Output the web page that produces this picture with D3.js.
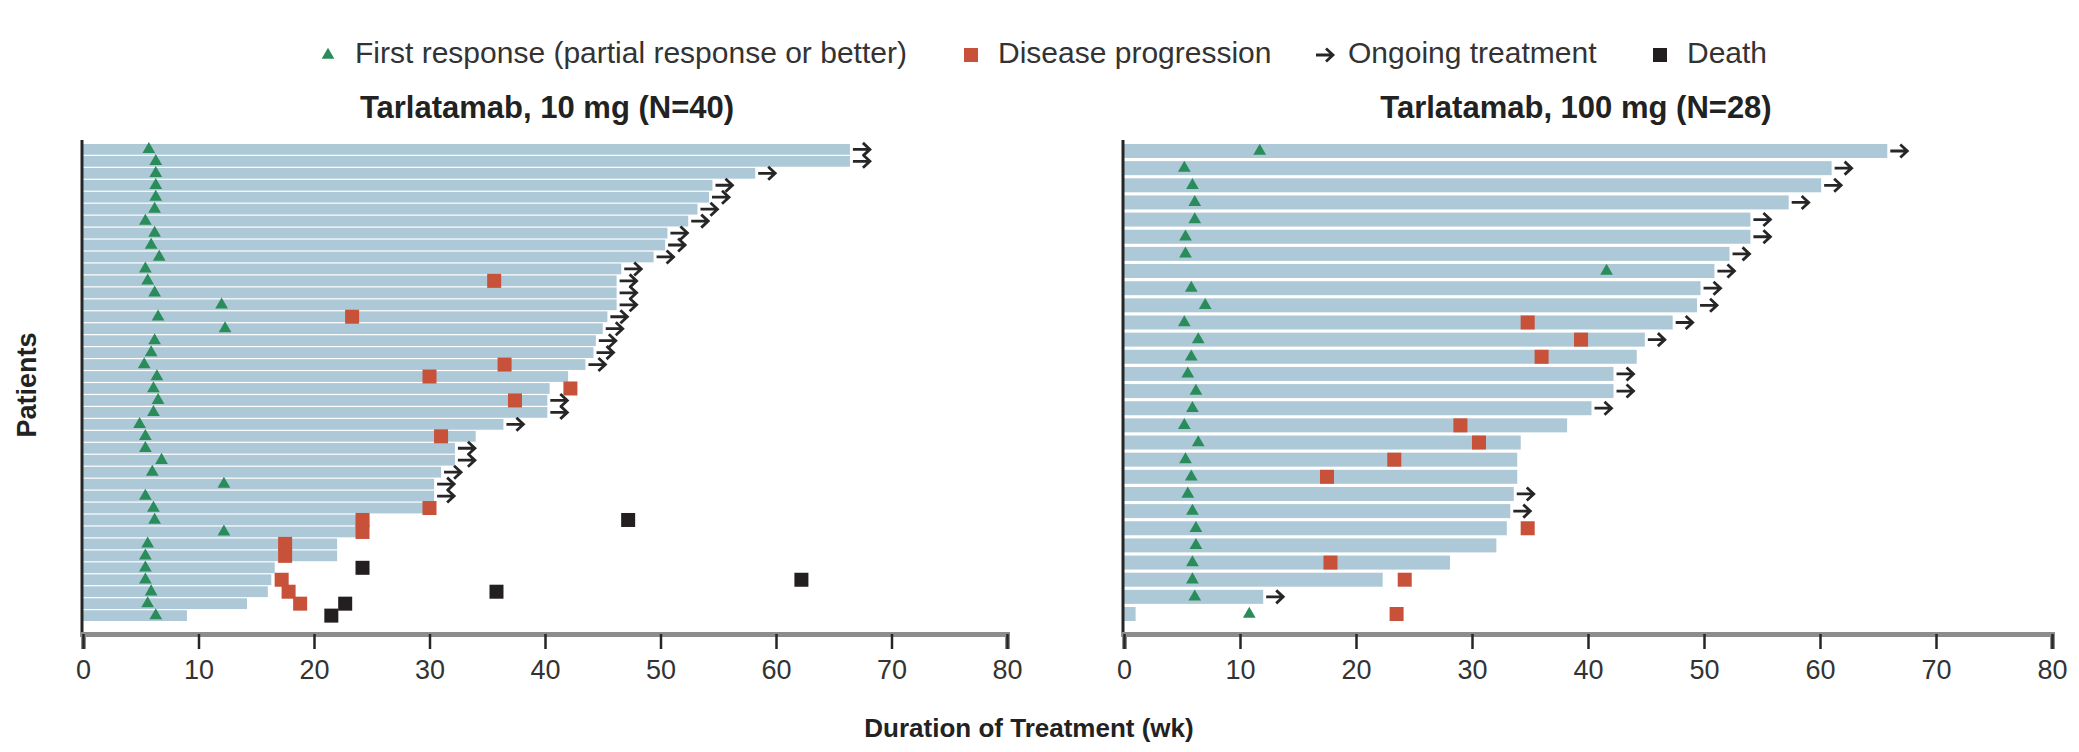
<!DOCTYPE html>
<html>
<head>
<meta charset="utf-8">
<script src="https://cdn.jsdelivr.net/npm/d3@7"></script>
<style>
  body { margin: 0; background: #fff; }
  svg { display: block; font-family: "Liberation Sans", Arial, sans-serif; }
</style>
</head>
<body>
<svg id="chart" width="2079" height="752"></svg>
<script>
// ---- data, one entry per patient, top row first (weeks) ----
// Tarlatamab 10 mg
const dur10 = [66.4, 66.4, 58.2, 54.5, 54.2, 53.2, 52.4, 50.6, 50.4, 49.4,
               46.6, 46.2, 46.2, 46.2, 45.4, 45.0, 44.4, 44.2, 43.5, 42.0,
               40.4, 40.2, 40.2, 36.4, 34.0, 32.2, 32.2, 31.0, 30.4, 30.4,
               29.8, 24.8, 24.2, 22.0, 22.0, 16.6, 16.3, 16.0, 14.2, 9.0];
const resp10 = [5.7, 6.3, 6.3, 6.3, 6.3, 6.2, 5.4, 6.2, 5.9, 6.6,
                5.4, 5.6, 6.2, 12.0, 6.5, 12.3, 6.2, 5.9, 5.3, 6.4,
                6.1, 6.5, 6.1, 4.9, 5.4, 5.4, 6.8, 6.0, 12.2, 5.4,
                6.1, 6.2, 12.2, 5.6, 5.4, 5.4, 5.4, 5.9, 5.6, 6.3];
const prog10 = [null, null, null, null, null, null, null, null, null, null,
                null, 35.6, null, null, 23.3, null, null, null, 36.5, 30.0,
                42.2, 37.4, null, null, 31.0, null, null, null, null, null,
                30.0, 24.2, 24.2, 17.5, 17.5, null, 17.2, 17.8, 18.8, null];
const death10 = [null, null, null, null, null, null, null, null, null, null,
                 null, null, null, null, null, null, null, null, null, null,
                 null, null, null, null, null, null, null, null, null, null,
                 null, 47.2, null, null, null, 24.2, 62.2, 35.8, 22.7, 21.5];
const ongoing10 = [1, 1, 1, 1, 1, 1, 1, 1, 1, 1,
                   1, 1, 1, 1, 1, 1, 1, 1, 1, 0,
                   0, 1, 1, 1, 0, 1, 1, 1, 1, 1,
                   0, 0, 0, 0, 0, 0, 0, 0, 0, 0];

// Tarlatamab 100 mg
const dur100 = [65.8, 61.0, 60.1, 57.3, 54.0, 54.0, 52.2, 50.9, 49.7, 49.4,
                47.3, 44.9, 44.2, 42.2, 42.2, 40.3, 38.2, 34.2, 33.9, 33.9,
                33.6, 33.3, 33.0, 32.1, 28.1, 22.3, 12.0, 1.0];
const resp100 = [11.7, 5.2, 5.9, 6.1, 6.1, 5.3, 5.3, 41.6, 5.8, 7.0,
                 5.2, 6.4, 5.8, 5.5, 6.2, 5.9, 5.2, 6.4, 5.3, 5.8,
                 5.5, 5.9, 6.2, 6.2, 5.9, 5.9, 6.1, 10.8];
const prog100 = [null, null, null, null, null, null, null, null, null, null,
                 34.8, 39.4, 36.0, null, null, null, 29.0, 30.6, 23.3, 17.5,
                 null, null, 34.8, null, 17.8, 24.2, null, 23.5];
const death100 = dur100.map(() => null);
const ongoing100 = [1, 1, 1, 1, 1, 1, 1, 1, 1, 1,
                    1, 1, 0, 1, 1, 1, 0, 0, 0, 0,
                    1, 1, 0, 0, 0, 0, 1, 0];

const xTicks = [0, 10, 20, 30, 40, 50, 60, 70, 80];
const legendLabels = ["First response (partial response or better)", "Disease progression",
                      "Ongoing treatment", "Death"];
const panelTitles = ["Tarlatamab, 10 mg (N=40)", "Tarlatamab, 100 mg (N=28)"];

// ---- styles ----
const BAR = '#adc8d6', RED = '#c8513a', GREEN = '#2a8c5a', BLACK = '#231f20', INK = '#262626';
const ARROW = 'M-9,0H8M1,-6.5L8,0L1,6.5';

const svg = d3.select('#chart');
const tri = d3.symbol(d3.symbolTriangle, 70);

const panels = [
  { title: panelTitles[0], dur: dur10, resp: resp10, prog: prog10, death: death10, ongoing: ongoing10,
    x0: 83, x1: 1007, pad: 0.1, titleX: 547 },
  { title: panelTitles[1], dur: dur100, resp: resp100, prog: prog100, death: death100, ongoing: ongoing100,
    x0: 1124, x1: 2052, pad: 0.184, titleX: 1576 }
];

panels.forEach(drawPanel);
drawLegend();

svg.append('text')
  .attr('x', 1029).attr('y', 737).attr('text-anchor', 'middle')
  .attr('font-size', 26).attr('font-weight', 'bold').attr('fill', '#222')
  .text('Duration of Treatment (wk)');

svg.append('text')
  .attr('transform', 'translate(36,385) rotate(-90)').attr('text-anchor', 'middle')
  .attr('font-size', 27).attr('font-weight', 'bold').attr('fill', '#222')
  .text('Patients');

function drawPanel(p) {
  const x = d3.scaleLinear().domain([0, 80]).range([p.x0, p.x1]);
  const y = d3.scaleBand().domain(d3.range(p.dur.length)).range([144, 621]).paddingInner(p.pad);
  const cy = i => y(i) + y.bandwidth() / 2;
  const g = svg.append('g');

  // treatment bars
  g.append('g').selectAll('rect').data(p.dur).join('rect')
    .attr('x', x(0)).attr('y', (d, i) => y(i))
    .attr('width', d => x(d) - x(0)).attr('height', y.bandwidth())
    .attr('fill', BAR);

  // ongoing arrows just past the bar end
  const rows = p.dur.map((d, i) => ({ d, i }));
  g.append('g').selectAll('path').data(rows.filter(r => p.ongoing[r.i])).join('path')
    .attr('transform', r => `translate(${x(r.d) + 12},${cy(r.i)})`)
    .attr('d', ARROW).attr('fill', 'none')
    .attr('stroke', INK).attr('stroke-width', 2.8);

  // disease progression
  const sq = 14;
  g.append('g').selectAll('rect').data(rows.filter(r => p.prog[r.i] != null)).join('rect')
    .attr('x', r => x(p.prog[r.i]) - sq / 2).attr('y', r => cy(r.i) - sq / 2)
    .attr('width', sq).attr('height', sq).attr('fill', RED);

  // death
  g.append('g').selectAll('rect').data(rows.filter(r => p.death[r.i] != null)).join('rect')
    .attr('x', r => x(p.death[r.i]) - sq / 2).attr('y', r => cy(r.i) - sq / 2)
    .attr('width', sq).attr('height', sq).attr('fill', BLACK);

  // first response
  g.append('g').selectAll('path').data(rows).join('path')
    .attr('transform', r => `translate(${x(p.resp[r.i])},${cy(r.i)})`)
    .attr('d', tri).attr('fill', GREEN);

  // axes
  g.append('line')
    .attr('x1', x(0) - 1).attr('x2', x(0) - 1).attr('y1', 140).attr('y2', 637)
    .attr('stroke', INK).attr('stroke-width', 3);

  const ax = g.append('g').attr('transform', 'translate(0,634)')
    .call(d3.axisBottom(x).tickValues(xTicks).tickSizeOuter(0).tickSize(15).tickPadding(11));
  ax.attr('font-family', null).attr('font-size', 27);
  ax.select('.domain').attr('stroke', '#8d8d8d').attr('stroke-width', 5);
  ax.selectAll('.tick line').attr('stroke', INK).attr('stroke-width', 2.5);
  ax.selectAll('.tick text').attr('fill', '#333');

  g.append('text')
    .attr('x', p.titleX).attr('y', 118).attr('text-anchor', 'middle')
    .attr('font-size', 31).attr('font-weight', 'bold').attr('fill', '#222')
    .text(p.title);
}

function drawLegend() {
  const lx = [328, 971, 1325, 1660];
  const ly = 55;
  const lg = svg.append('g').attr('class', 'legend');

  lg.append('path').attr('transform', `translate(${lx[0]},${ly})`).attr('d', tri).attr('fill', GREEN);
  lg.append('rect').attr('x', lx[1] - 7).attr('y', ly - 7).attr('width', 14).attr('height', 14).attr('fill', RED);
  lg.append('path').attr('transform', `translate(${lx[2]},${ly})`).attr('d', ARROW)
    .attr('fill', 'none').attr('stroke', INK).attr('stroke-width', 2.8);
  lg.append('rect').attr('x', lx[3] - 7).attr('y', ly - 7).attr('width', 14).attr('height', 14).attr('fill', BLACK);

  lg.selectAll('text').data(legendLabels).join('text')
    .attr('x', (d, i) => lx[i] + (i === 2 ? 23 : 27)).attr('y', 63)
    .attr('font-size', 30).attr('fill', '#333')
    .text(d => d);
}
</script>
</body>
</html>
